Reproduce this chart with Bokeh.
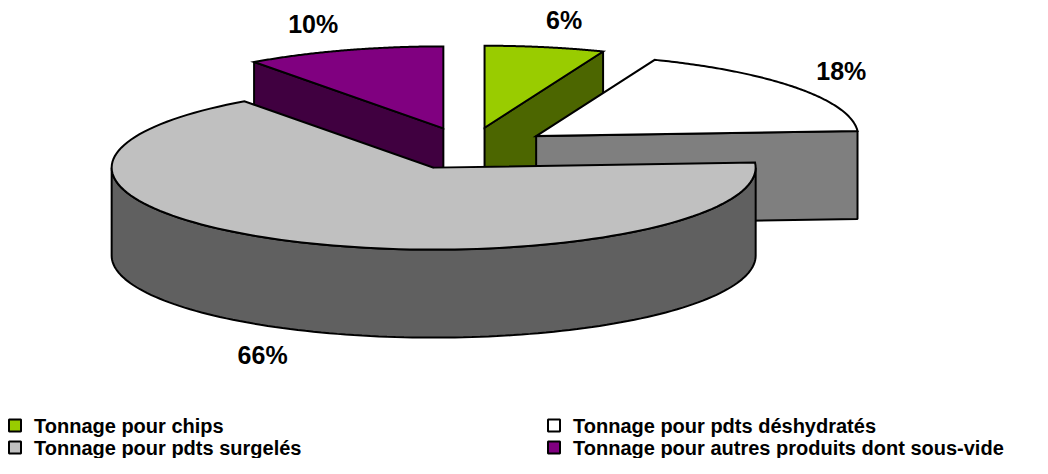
import numpy as np
from bokeh.plotting import figure
from bokeh.models import Range1d
from bokeh.core.properties import value
from bokeh.embed import file_html
from bokeh.resources import INLINE

# ---- data ----
categories = ["Tonnage pour chips", "Tonnage pour pdts déshydratés",
              "Tonnage pour pdts surgelés", "Tonnage pour autres produits dont sous-vide"]
percents = [6, 18, 66, 10]
colors = ["#99CC00", "#FFFFFF", "#C0C0C0", "#800080"]

# ---- layout (pixel space of the reference) ----
W, H = 1032, 458
XOFF, YOFF = 4, 5
CX, CY = 472.5, 153.0
RX, RY = 322.0, 82.0
DEPTH = 88.0
EXPLODE = 83.0
FONT = value("Liberation Sans")

p = figure(width=W, height=H, output_backend="svg", toolbar_location=None,
           x_range=Range1d(XOFF, XOFF + W), y_range=Range1d(YOFF + H, YOFF),
           min_border=0, outline_line_color=None)
p.axis.visible = False
p.grid.visible = False
p.background_fill_color = "white"
p.border_fill_color = "white"


def darker(hexc):
    r, g, b = int(hexc[1:3], 16), int(hexc[3:5], 16), int(hexc[5:7], 16)
    return "#%02X%02X%02X" % (r // 2, g // 2, b // 2)


total = float(sum(percents))
starts, ends = [], []
acc = 0.0
for v in percents:
    starts.append(acc / total * 360.0)
    acc += v
    ends.append(acc / total * 360.0)


def center(a0, a1):
    m = np.radians((a0 + a1) / 2)
    return CX + EXPLODE * np.sin(m), CY - EXPLODE * (RY / RX) * np.cos(m)


def arc(cx, cy, t0, t1, dy=0.0, n=120):
    t = np.radians(np.linspace(t0, t1, n))
    return list(cx + RX * np.sin(t)), list(cy - RY * np.cos(t) + dy)


LW = 2.0


def draw_slice(i):
    a0, a1 = starts[i], ends[i]
    cx, cy = center(a0, a1)
    top = colors[i]
    side = darker(top)
    # radial side faces
    for a, normal in ((a0, a0 - 90), (a1, a1 + 90)):
        if np.cos(np.radians(normal)) < -1e-6:
            ex, ey = cx + RX * np.sin(np.radians(a)), cy - RY * np.cos(np.radians(a))
            p.patch([cx, ex, ex, cx], [cy, ey, ey + DEPTH, cy + DEPTH],
                    fill_color=side, line_color="black", line_width=LW)
    # outer curved side (front half only)
    lo, hi = max(a0, 90.0), min(a1, 270.0)
    if hi > lo:
        xs, ys = arc(cx, cy, lo, hi)
        xb, yb = arc(cx, cy, lo, hi, dy=DEPTH)
        p.patch(xs + xb[::-1], ys + yb[::-1], fill_color=side,
                line_color="black", line_width=LW)
    # top face
    xs, ys = arc(cx, cy, a0, a1)
    p.patch([cx] + xs, [cy] + ys, fill_color=top, line_color="black",
            line_width=LW, line_join="miter")


# painter's order: back-left, back, back-right, front
for i in [3, 0, 1, 2]:
    draw_slice(i)

# percentage labels
lx, ly, lt = [], [], []
D = 28.0
for i, v in enumerate(percents):
    a0, a1 = starts[i], ends[i]
    cx, cy = center(a0, a1)
    m = np.radians((a0 + a1) / 2)
    s, c = np.sin(m), np.cos(m)
    txt = f"{v}%"
    hw = 8.0 * len(txt) - 2.0
    x = cx + RX * s + D * s + hw * np.sign(s)
    y = cy - RY * c - D * c
    if c < 0:
        y += DEPTH
    lx.append(x)
    ly.append(y)
    lt.append(txt)
p.text(x=lx, y=ly, text=lt, text_font=FONT, text_font_style="bold",
       text_font_size="25px", text_align="center", text_baseline="middle",
       text_color="black")

# legend (2 columns)
col_x = [18.5, 557.5]
row_y = [430.0, 452.0]
mx, my, tx, ty, fc = [], [], [], [], []
for i, name in enumerate(categories):
    r, c = divmod(i, 2)
    mx.append(col_x[c])
    my.append(row_y[r])
    tx.append(col_x[c] + 19)
    ty.append(row_y[r])
    fc.append(colors[i])
p.scatter(x=mx, y=my, marker="square", size=12, fill_color=fc,
          line_color="black", line_width=2)
p.text(x=tx, y=ty, text=categories, text_font=FONT, text_font_style="bold",
       text_font_size="20px", text_align="left", text_baseline="middle",
       text_color="black")

open("out.html", "w").write(file_html(p, INLINE))
